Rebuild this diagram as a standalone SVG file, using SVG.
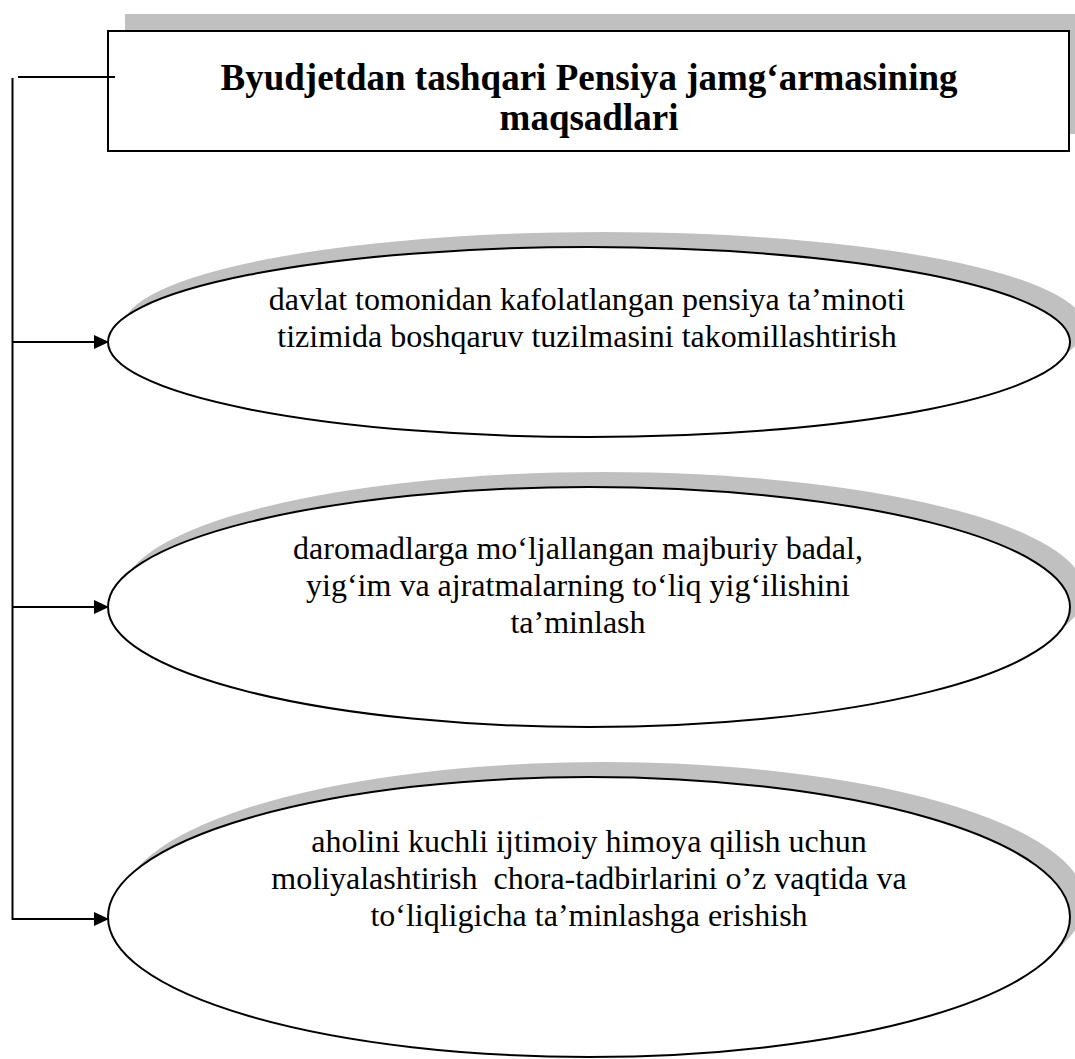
<svg xmlns="http://www.w3.org/2000/svg" width="1075" height="1059" viewBox="0 0 1075 1059">
  <style>
    .shadow { fill: #c0c0c0; stroke: none; }
    .shape { fill: #ffffff; stroke: #000000; stroke-width: 2; }
    .title { font-family: "Liberation Serif", "Times New Roman", serif; font-size: 37px; font-weight: bold; fill: #000; text-anchor: middle; }
    .body { font-family: "Liberation Serif", "Times New Roman", serif; font-size: 32px; fill: #000; text-anchor: middle; white-space: pre; }
    .conn { fill: none; stroke: #000000; stroke-width: 2; }
  </style>
  <defs>
    <marker id="arrow" markerUnits="userSpaceOnUse" markerWidth="15" markerHeight="14" refX="7" refY="7" orient="auto">
      <path d="M0,0 L15,7 L0,14 Z" fill="#000000"/>
    </marker>
  </defs>
  <rect width="1075" height="1059" fill="#ffffff"/>

  <g id="title-node">
    <rect class="shadow" x="125" y="14" width="961" height="120"/>
    <rect class="shape" x="108" y="31" width="961" height="120"/>
    <text class="title" x="589" y="90">Byudjetdan tashqari Pensiya jamg‘armasining</text>
    <text class="title" x="589" y="130">maqsadlari</text>
  </g>

  <g id="goal-1">
    <ellipse class="shadow" cx="604" cy="327" rx="481" ry="95"/>
    <ellipse class="shape" cx="589" cy="342" rx="481" ry="95"/>
    <text class="body" x="587" y="310">davlat tomonidan kafolatlangan pensiya ta’minoti</text>
    <text class="body" x="587" y="347">tizimida boshqaruv tuzilmasini takomillashtirish</text>
  </g>

  <g id="goal-2">
    <ellipse class="shadow" cx="604" cy="592" rx="481" ry="120"/>
    <ellipse class="shape" cx="589" cy="607" rx="481" ry="120"/>
    <text class="body" x="578" y="559">daromadlarga mo‘ljallangan majburiy badal,</text>
    <text class="body" x="578" y="596">yig‘im va ajratmalarning to‘liq yig‘ilishini</text>
    <text class="body" x="578" y="633">ta’minlash</text>
  </g>

  <g id="goal-3">
    <ellipse class="shadow" cx="604" cy="902" rx="481" ry="140"/>
    <ellipse class="shape" cx="589" cy="917" rx="481" ry="140"/>
    <text class="body" x="589" y="852">aholini kuchli ijtimoiy himoya qilish uchun</text>
    <text class="body" x="589" y="889">moliyalashtirish  chora-tadbirlarini o’z vaqtida va</text>
    <text class="body" x="589" y="926">to‘liqligicha ta’minlashga erishish</text>
  </g>

  <g id="connectors">
    <line class="conn" x1="18" y1="77" x2="115" y2="77"/>
    <line class="conn" x1="12.5" y1="78" x2="12.5" y2="920"/>
    <line class="conn" x1="12.5" y1="342" x2="101" y2="342" marker-end="url(#arrow)"/>
    <line class="conn" x1="12.5" y1="607" x2="101" y2="607" marker-end="url(#arrow)"/>
    <path class="conn" d="M12.5,919 L101,919" marker-end="url(#arrow)"/>
  </g>
</svg>
